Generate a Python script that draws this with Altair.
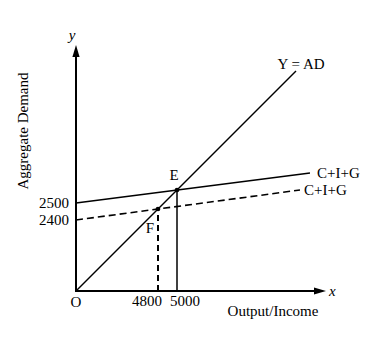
import altair as alt
import pandas as pd

# Schematic diagram units (origin O = 0,0); the Y = AD line is the 45-degree line y = x
ad_x = [0, 220]
ad_y = [0, 220]

cig_x = [0, 234]      # C+I+G (solid, higher)
cig_y = [88, 118]
cig2_x = [0, 224]     # C+I+G (dashed, lower)
cig2_y = [71, 101]

eq_labels = ["E", "F"]
eq_x = [101, 82]
eq_y = [101, 82]

x_tick_text = ["5000", "4800"]   # incomes at E and F
y_tick_text = ["2500", "2400"]   # intercepts of the two C+I+G lines
y_tick_val = [88, 71]

axis_x_end = 250
axis_y_end = 246

FONT = "Liberation Serif"
FS = 15

xs = alt.Scale(domain=[0, axis_x_end], nice=False, zero=False)
ys = alt.Scale(domain=[0, axis_y_end], nice=False, zero=False)


def X(f="x"):
    return alt.X(f"{f}:Q", scale=xs, axis=None)


def Y(f="y"):
    return alt.Y(f"{f}:Q", scale=ys, axis=None)


# axes
axes_df = pd.DataFrame({"x": [0, 0], "y": [0, 0], "x2": [axis_x_end - 10, 0], "y2": [0, axis_y_end - 10]})
axes = alt.Chart(axes_df).mark_rule(color="black", strokeWidth=2, strokeCap="square").encode(
    x=X(), y=Y(), x2="x2:Q", y2="y2:Q"
)

arrow_x = alt.Chart(pd.DataFrame({"x": [axis_x_end], "y": [0]})).mark_point(
    shape="M0,0L-1,-0.3L-1,0.3Z", size=576, filled=True, color="black", opacity=1, strokeWidth=0
).encode(x=X(), y=Y())
arrow_y = alt.Chart(pd.DataFrame({"x": [0], "y": [axis_y_end]})).mark_point(
    shape="M0,0L-0.3,1L0.3,1Z", size=576, filled=True, color="black", opacity=1, strokeWidth=0
).encode(x=X(), y=Y())

ad_line = alt.Chart(pd.DataFrame({"x": ad_x, "y": ad_y})).mark_line(
    color="black", strokeWidth=1.5
).encode(x=X(), y=Y())
cig_line = alt.Chart(pd.DataFrame({"x": cig_x, "y": cig_y})).mark_line(
    color="black", strokeWidth=1.5
).encode(x=X(), y=Y())
cig2_line = alt.Chart(pd.DataFrame({"x": cig2_x, "y": cig2_y})).mark_line(
    color="black", strokeWidth=1.6, strokeDash=[7, 4]
).encode(x=X(), y=Y())

eq_df = pd.DataFrame({"label": eq_labels, "x": eq_x, "y": eq_y, "y0": [0, 0]})
e_df = eq_df[eq_df.label == "E"]
f_df = eq_df[eq_df.label == "F"]

e_drop = alt.Chart(e_df).mark_rule(color="black", strokeWidth=1.5).encode(x=X(), y=Y("y0"), y2="y:Q")
f_drop = alt.Chart(f_df).mark_rule(color="black", strokeWidth=2, strokeDash=[6, 4]).encode(
    x=X(), y=Y("y0"), y2="y:Q"
)
dots = alt.Chart(eq_df).mark_circle(size=22, color="black", opacity=1).encode(x=X(), y=Y())

txt = dict(font=FONT, fontSize=FS, color="black", baseline="middle")

e_lab = alt.Chart(e_df).mark_text(dx=-3, dy=-15, **txt).encode(x=X(), y=Y(), text="label:N")
f_lab = alt.Chart(f_df).mark_text(dx=-8, dy=19, **txt).encode(x=X(), y=Y(), text="label:N")

xt_df = pd.DataFrame({"x": eq_x, "y": [0, 0], "t": x_tick_text})
xt_e = alt.Chart(xt_df.iloc[[0]]).mark_text(dx=8, dy=10, align="center", **txt).encode(
    x=X(), y=Y(), text="t:N"
)
xt_f = alt.Chart(xt_df.iloc[[1]]).mark_text(dx=-11, dy=10, align="center", **txt).encode(
    x=X(), y=Y(), text="t:N"
)
o_lab = alt.Chart(pd.DataFrame({"x": [0], "y": [0], "t": ["O"]})).mark_text(
    dy=11, align="center", **txt
).encode(x=X(), y=Y(), text="t:N")

yt_df = pd.DataFrame({"x": [0, 0], "y": y_tick_val, "t": y_tick_text})
yt = alt.Chart(yt_df).mark_text(dx=-7, align="right", **txt).encode(x=X(), y=Y(), text="t:N")

line_lab_df = pd.DataFrame({
    "x": [cig_x[1], cig2_x[1], ad_x[1]],
    "y": [cig_y[1], cig2_y[1], ad_y[1]],
    "t": ["C+I+G", "C+I+G", "Y = AD"],
})
cig_lab = alt.Chart(line_lab_df.iloc[[0]]).mark_text(dx=7, align="left", **txt).encode(
    x=X(), y=Y(), text="t:N"
)
cig2_lab = alt.Chart(line_lab_df.iloc[[1]]).mark_text(dx=4, align="left", **txt).encode(
    x=X(), y=Y(), text="t:N"
)
ad_lab = alt.Chart(line_lab_df.iloc[[2]]).mark_text(dx=5, dy=-7, align="center", **txt).encode(
    x=X(), y=Y(), text="t:N"
)

ax_letters = pd.DataFrame({"x": [0, axis_x_end], "y": [axis_y_end, 0], "t": ["y", "x"]})
y_letter = alt.Chart(ax_letters.iloc[[0]]).mark_text(
    dx=-4, dy=-10, align="center", fontStyle="italic", **txt
).encode(x=X(), y=Y(), text="t:N")
x_letter = alt.Chart(ax_letters.iloc[[1]]).mark_text(
    dx=3, dy=0, align="left", fontStyle="italic", **txt
).encode(x=X(), y=Y(), text="t:N")

titles_df = pd.DataFrame({"t": ["Output/Income"]})
x_title = alt.Chart(titles_df).mark_text(align="center", **txt).encode(
    x=alt.value(197), y=alt.value(266), text="t:N"
)
y_title = alt.Chart(pd.DataFrame({"t": ["Aggregate Demand"]})).mark_text(
    align="center", angle=270, **txt
).encode(x=alt.value(-53), y=alt.value(86), text="t:N")

chart = alt.layer(
    axes, arrow_x, arrow_y, ad_line, cig_line, cig2_line, e_drop, f_drop, dots,
    e_lab, f_lab, xt_e, xt_f, o_lab, yt, cig_lab, cig2_lab, ad_lab, y_letter, x_letter,
    x_title, y_title,
).properties(
    width=250, height=246,
    padding={"left": 76, "top": 45, "right": 50, "bottom": 61},
    autosize="none",
    background="white",
).configure_view(stroke=None)

chart.save("out.html", embed_options={"renderer": "svg", "actions": False})
